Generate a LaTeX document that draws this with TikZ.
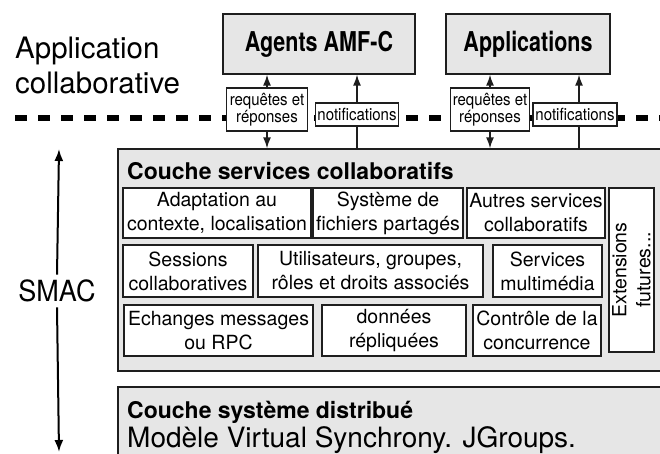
\documentclass[tikz,border=0pt]{standalone}
\usepackage{fontspec}
\setmainfont{TeX Gyre Heros}
\usetikzlibrary{arrows.meta}
\definecolor{boxgrey}{HTML}{E6E6E6}
\definecolor{linec}{HTML}{1E1E1E}
\newcommand{\myfs}[2]{\fontsize{#1}{#2}\selectfont}
\begin{document}
\begin{tikzpicture}[x=1pt,y=-1pt,
  outer/.style={draw=linec, fill=boxgrey, line width=1.3pt, inner sep=0pt},
  ib/.style={draw=linec, fill=white, line width=1.2pt, inner sep=0pt, align=center, font=\myfs{19.5}{24}},
  lbl/.style={draw=linec, fill=white, line width=1.2pt, inner sep=0pt, align=center, font=\myfs{15}{17.5}},
  topbox/.style={draw=linec, fill=boxgrey, line width=1.3pt, inner sep=0pt, font=\myfs{21.5}{24}\bfseries},
  arr/.style={draw=linec, line width=1.5pt, -{Latex[length=11pt,width=8pt]}},
  bigarr/.style={draw=black, line width=2pt, -{Latex[length=12pt,width=9pt]}},
  ln/.style={draw=linec, line width=1.5pt},
  txt/.style={anchor=base west, inner sep=0pt},
]
\useasboundingbox (0,0) rectangle (660,454);
\fill[white] (0,0) rectangle (660,454);
\begin{scope}
\clip (0,0) rectangle (660,454);
% dashed separator
\draw[black, line width=6pt, dash pattern=on 12pt off 11pt] (15,118) -- (662,118);
% left texts
\node[txt, font=\myfs{29.5}{35}] (app1) at (15,59) {Application};
\node[txt, font=\myfs{29.5}{35}] (app2) at (15,94) {collaborative};
% outer layers
\node[outer, minimum width=552pt, minimum height=222pt] (main) at (394,260) {};
\node[outer, minimum width=552pt, minimum height=83pt] (lower) at (394,428.5) {};
\node[txt, font=\myfs{23}{26}\bfseries] (t1) at (127,180) {Couche services collaboratifs};
\node[txt, font=\myfs{23}{26}\bfseries] (t2) at (127,418) {Couche système distribué};
\node[txt, font=\myfs{28}{32}] (t3) at (127,447) {Modèle Virtual Synchrony. JGroups.};
% top boxes
\node[topbox, minimum width=192pt, minimum height=60pt] (agents) at (319,44) {\scalebox{1}[1.27]{Agents AMF-C}};
\node[topbox, minimum width=164pt, minimum height=60pt] (apps) at (528,44) {\scalebox{1}[1.27]{Applications}};
% label boxes
\node[lbl, minimum width=81pt, minimum height=43pt] (req1) at (267,109.5) {\scalebox{1}[1.12]{requêtes et}\\\scalebox{1}[1.12]{réponses}};
\node[lbl, minimum width=83pt, minimum height=23pt] (not1) at (357,114.5) {\scalebox{1}[1.12]{notifications}};
\node[lbl, minimum width=79pt, minimum height=43pt] (req2) at (490,109.5) {\scalebox{1}[1.12]{requêtes et}\\\scalebox{1}[1.12]{réponses}};
\node[lbl, minimum width=84pt, minimum height=23pt] (not2) at (575,114.5) {\scalebox{1}[1.12]{notifications}};
% connectors
\draw[arr] (req1.north) -- (req1.north |- agents.south);
\draw[arr] (req1.south) -- (req1.south |- main.north);
\draw[arr] (not1.north) -- (not1.north |- agents.south);
\draw[ln] (not1.south) -- (not1.south |- main.north);
\draw[arr] (req2.north) -- (req2.north |- apps.south);
\draw[arr] (req2.south) -- (req2.south |- main.north);
\draw[arr] ([xshift=4pt]not2.north) -- ([xshift=4pt]not2.north |- apps.south);
\draw[ln] ([xshift=4pt]not2.south) -- ([xshift=4pt]not2.south |- main.north);
% inner service boxes
\node[ib, minimum width=188pt, minimum height=50pt] (adapt) at (217,213) {Adaptation au\\contexte, localisation};
\node[ib, minimum width=150pt, minimum height=50pt] (fich) at (388,213) {Système de\\fichiers partagés};
\node[ib, minimum width=138pt, minimum height=50pt] (autres) at (536,213) {Autres services\\collaboratifs};
\node[ib, minimum width=130pt, minimum height=52pt] (sess) at (188,271) {Sessions\\collaboratives};
\node[ib, minimum width=225pt, minimum height=52pt] (util) at (370.5,271) {Utilisateurs, groupes,\\rôles et droits associés};
\node[ib, minimum width=109pt, minimum height=52pt] (multi) at (547.5,271) {Services\\multimédia};
\node[ib, minimum width=189pt, minimum height=51pt] (ech) at (218.5,330.5) {Echanges messages\\ou RPC};
\node[ib, minimum width=144pt, minimum height=51pt] (donn) at (394,330.5) {données\\répliquées};
\node[ib, minimum width=128pt, minimum height=51pt] (ctrl) at (537,330.5) {Contrôle de la\\concurrence};
\node[ib, rotate=90, minimum width=164pt, minimum height=45pt] (ext) at (631.5,270) {Extensions\\futures...};
\end{scope}
% SMAC arrow
\coordinate (smacTop) at (59,149);
\coordinate (smacBot) at (59,452);
\node[inner sep=5pt, font=\myfs{27}{30}] (smac) at (57,291) {\scalebox{1}[1.08]{SMAC}};
\draw[bigarr] (smac.north) -- (smacTop);
\draw[bigarr] (smac.south) -- (smacBot);
\end{tikzpicture}
\end{document}
